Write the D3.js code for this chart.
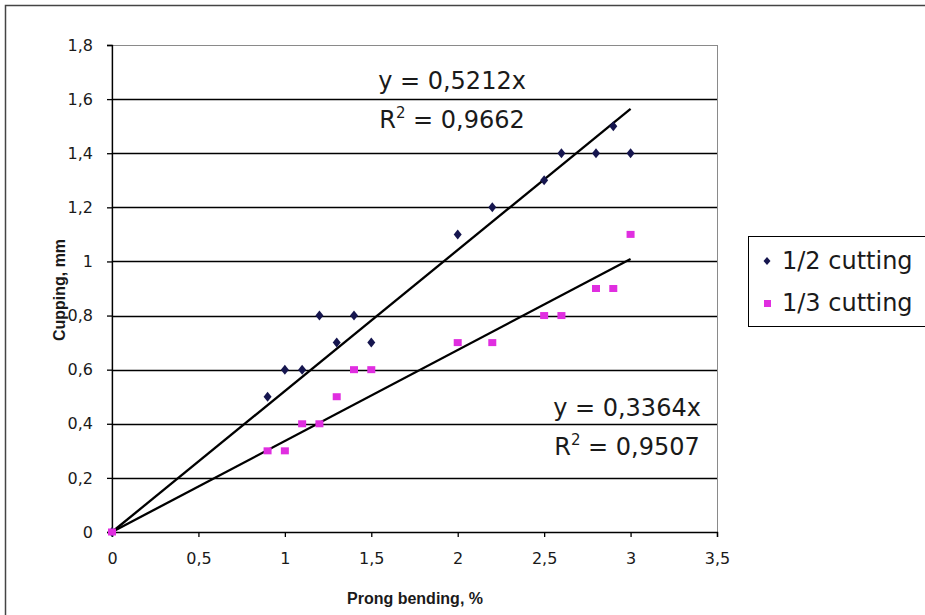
<!DOCTYPE html>
<html>
<head>
<meta charset="utf-8">
<script src="https://cdn.jsdelivr.net/npm/d3@7"></script>
<style>
  html, body { margin: 0; padding: 0; background: #fff; }
  svg { display: block; font-family: "DejaVu Sans", Arial, sans-serif; }
</style>
</head>
<body>
<svg id="chart" width="925" height="615"></svg>
<script>
// Prong bending (%) vs cupping (mm) for two cutting depths
const halfX  = [0, 0.9, 1.0, 1.1, 1.2, 1.3, 1.4, 1.5, 2.0, 2.2, 2.5, 2.6, 2.8, 2.9, 3.0];
const halfY  = [0, 0.5, 0.6, 0.6, 0.8, 0.7, 0.8, 0.7, 1.1, 1.2, 1.3, 1.4, 1.4, 1.5, 1.4];
const thirdX = [0, 0.9, 1.0, 1.1, 1.2, 1.3, 1.4, 1.5, 2.0, 2.2, 2.5, 2.6, 2.8, 2.9, 3.0];
const thirdY = [0, 0.3, 0.3, 0.4, 0.4, 0.5, 0.6, 0.6, 0.7, 0.7, 0.8, 0.8, 0.9, 0.9, 1.1];
const seriesNames = ["1/2 cutting", "1/3 cutting"];
const slopes = [0.5212, 0.3364];
const r2 = ["0,9662", "0,9507"];
const xTicks = [0, 0.5, 1, 1.5, 2, 2.5, 3, 3.5];
const yTicks = [0, 0.2, 0.4, 0.6, 0.8, 1, 1.2, 1.4, 1.6, 1.8];

const svg = d3.select("#chart");
const plot = { left: 112, right: 717, top: 45, bottom: 532 };
const x = d3.scaleLinear().domain([0, 3.5]).range([plot.left, plot.right]);
const y = d3.scaleLinear().domain([0, 1.8]).range([plot.bottom, plot.top]);
const comma = v => String(v).replace(".", ",");
const colors = ["#16164f", "#e02ee0"];
const ink = "#1a1a1a";

// outer chart frame (right and bottom edges run past the canvas)
svg.append("rect").attr("x", 5.5).attr("y", 5.5).attr("width", 940).attr("height", 640)
  .attr("fill", "#fff").attr("stroke", "#444").attr("stroke-width", 1.5);

// plot area border
svg.append("rect").attr("x", plot.left).attr("y", plot.top + 0.5)
  .attr("width", plot.right - plot.left + 0.5).attr("height", plot.bottom - plot.top)
  .attr("fill", "none").attr("stroke", "#8a8a8a");

// horizontal gridlines
svg.append("g").selectAll("line").data(yTicks.filter(d => d > 0 && d < 1.8)).join("line")
  .attr("x1", plot.left).attr("x2", plot.right)
  .attr("y1", d => Math.round(y(d)) + 0.5).attr("y2", d => Math.round(y(d)) + 0.5)
  .attr("stroke", "#000").attr("stroke-width", 1.3);

// axes
const yAxis = svg.append("g").attr("transform", `translate(${plot.left},0)`)
  .call(d3.axisLeft(y).tickValues(yTicks).tickFormat(comma).tickSize(5).tickPadding(14));
const xAxis = svg.append("g").attr("transform", `translate(0,${plot.bottom})`)
  .call(d3.axisBottom(x).tickValues(xTicks).tickFormat(comma).tickSize(5).tickPadding(16));
[xAxis, yAxis].forEach(a => {
  a.select(".domain").attr("stroke", "#000").attr("stroke-width", 1.3);
  a.selectAll(".tick line").attr("stroke", "#000").attr("stroke-width", 1.3);
  a.selectAll(".tick text").attr("font-size", 16).attr("fill", ink)
    .attr("font-family", "'DejaVu Sans', Arial, sans-serif");
});

// axis titles
svg.append("text").attr("x", 415).attr("y", 604).attr("text-anchor", "middle")
  .attr("font-family", "'Liberation Sans', Arial, sans-serif")
  .attr("font-size", 16).attr("font-weight", "bold").attr("fill", ink)
  .text("Prong bending, %");
svg.append("text").attr("transform", "translate(65,290) rotate(-90)").attr("text-anchor", "middle")
  .attr("font-family", "'Liberation Sans', Arial, sans-serif")
  .attr("font-size", 16).attr("font-weight", "bold").attr("fill", ink)
  .text("Cupping, mm");

// linear trendlines through the origin
slopes.forEach(s => {
  svg.append("line")
    .attr("x1", x(0)).attr("y1", y(0)).attr("x2", x(3)).attr("y2", y(s * 3))
    .attr("stroke", "#000").attr("stroke-width", 2.3);
});

// markers
const diamondPath = "M0,-5L4,0L0,5L-4,0Z";
svg.append("g").selectAll("path").data(d3.zip(halfX, halfY)).join("path")
  .attr("transform", d => `translate(${x(d[0])},${y(d[1])})`)
  .attr("d", diamondPath).attr("fill", colors[0]);
svg.append("g").selectAll("rect").data(d3.zip(thirdX, thirdY)).join("rect")
  .attr("x", d => x(d[0]) - 4).attr("y", d => y(d[1]) - 3.5)
  .attr("width", 8).attr("height", 7).attr("fill", colors[1]);

// trendline equations
function equation(cx, cy, slope, rsq) {
  const g = svg.append("g").attr("font-size", 24).attr("fill", ink).attr("text-anchor", "middle");
  g.append("text").attr("x", cx).attr("y", cy).text(`y = ${comma(slope)}x`);
  const t = g.append("text").attr("x", cx).attr("y", cy + 39);
  t.append("tspan").text("R");
  t.append("tspan").attr("font-size", 15).attr("dy", -10).text("2");
  t.append("tspan").attr("dy", 10).text(` = ${rsq}`);
}
equation(452, 89, slopes[0], r2[0]);
equation(627, 416, slopes[1], r2[1]);

// legend
const lg = svg.append("g");
lg.append("rect").attr("x", 748.5).attr("y", 236.5).attr("width", 200).attr("height", 90)
  .attr("fill", "#fff").attr("stroke", "#000");
lg.append("path").attr("transform", "translate(767,261)")
  .attr("d", "M0,-4L3.5,0L0,4L-3.5,0Z").attr("fill", colors[0]);
lg.append("rect").attr("x", 764).attr("y", 300).attr("width", 7).attr("height", 7).attr("fill", colors[1]);
lg.selectAll("text.l").data(seriesNames).join("text")
  .attr("x", 782).attr("y", (d, i) => 269 + i * 42)
  .attr("font-size", 24).attr("fill", ink).text(d => d);
</script>
</body>
</html>
